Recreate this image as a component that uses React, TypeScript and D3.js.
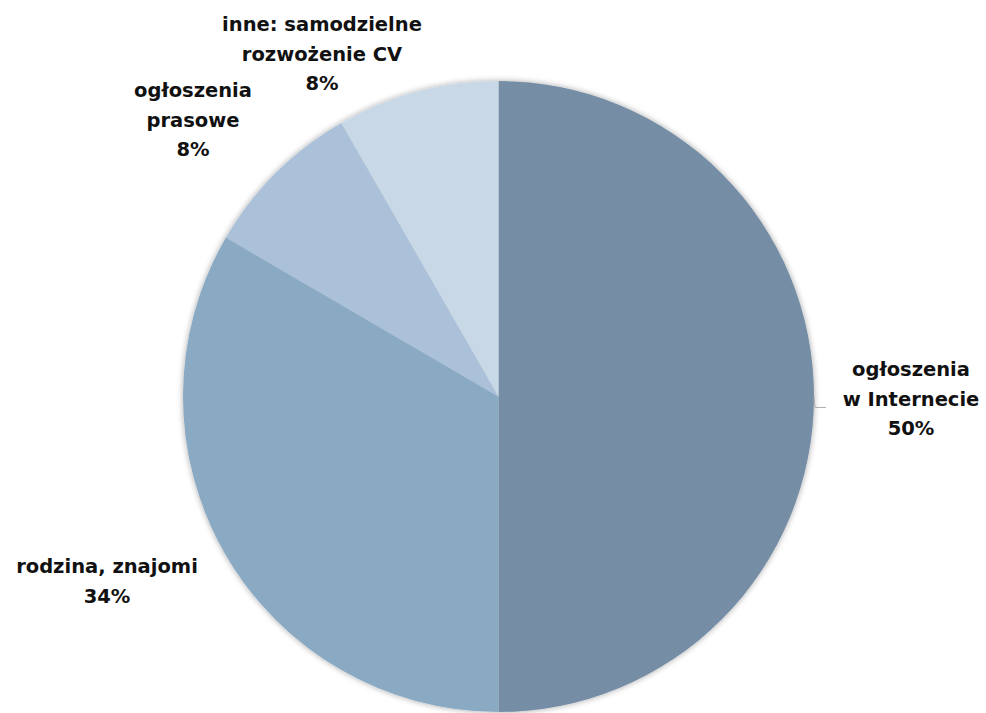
import React from "react";
import * as d3 from "d3";

const categories = ["ogłoszenia w Internecie", "rodzina, znajomi", "ogłoszenia prasowe", "inne: samodzielne rozwożenie CV"];
const values = [50, 33.4, 8.3, 8.3];
const percentLabels = ["50%", "34%", "8%", "8%"];
const labelLines = [
  ["ogłoszenia", "w Internecie"],
  ["rodzina, znajomi"],
  ["ogłoszenia", "prasowe"],
  ["inne: samodzielne", "rozwożenie CV"],
];
const colors = ["#758EA5", "#8AAAC4", "#AAC1D9", "#C8D8E6"];

const W = 986, H = 713;
const cx = 498.5, cy = 396.5, R = 315.5;
// label anchor positions (center x, first baseline y)
const labelPos = [
  [911, 376],
  [107, 573],
  [193, 97],
  [322, 31],
];
const lineH = 29.5;

export default function App() {
  const pie = d3.pie<number>().sort(null).value((d) => d)(values);
  const arc = d3.arc<d3.PieArcDatum<number>>().innerRadius(0).outerRadius(R);
  return (
    <svg width={W} height={H} style={{ position: "absolute", left: 0, top: 0 }}>
      <defs>
        <filter id="sh" x="-10%" y="-10%" width="120%" height="120%">
          <feGaussianBlur in="SourceAlpha" stdDeviation="3" />
          <feOffset dx="0" dy="0" />
          <feComponentTransfer><feFuncA type="linear" slope="0.35" /></feComponentTransfer>
          <feMerge><feMergeNode /><feMergeNode in="SourceGraphic" /></feMerge>
        </filter>
      </defs>
      <g transform={`translate(${cx},${cy})`} filter="url(#sh)">
        {pie.map((p, i) => (
          <path key={i} d={arc(p) || ""} fill={colors[i]} />
        ))}
      </g>
      <polyline points={`${cx + R},${cy} ${cx + R + 1},${cy + 11} ${cx + R + 12},${cy + 11}`} fill="none" stroke="#b0b0b0" strokeWidth={1} />
      {categories.map((c, i) => {
        const lines = [...labelLines[i], percentLabels[i]];
        return (
          <text key={c} x={labelPos[i][0]} textAnchor="middle" fontFamily="'DejaVu Sans', sans-serif" fontWeight="bold" fontSize={19.5} fill="#111">
            {lines.map((l, j) => (
              <tspan key={j} x={labelPos[i][0]} y={labelPos[i][1] + j * lineH}>{l}</tspan>
            ))}
          </text>
        );
      })}
    </svg>
  );
}
